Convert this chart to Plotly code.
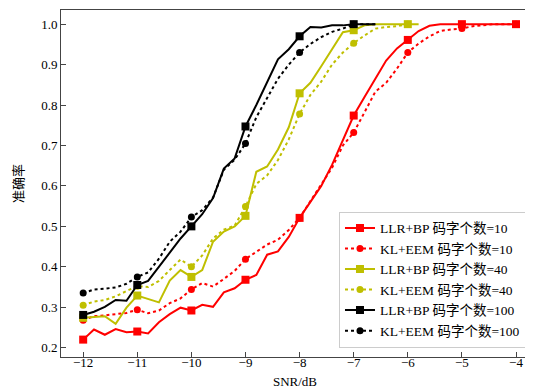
import plotly.graph_objects as go

# SNR grid (dB), 0.2 dB step from -12 to -4
snr_fine = [round(-12 + 0.2 * i, 1) for i in range(41)]

llr_bp_10 = [0.220, 0.245, 0.232, 0.246, 0.238, 0.240, 0.235, 0.263, 0.283, 0.299,
             0.292, 0.306, 0.301, 0.337, 0.347, 0.368, 0.380, 0.430, 0.438, 0.474,
             0.521, 0.559, 0.600, 0.652, 0.712, 0.774, 0.820, 0.865, 0.910, 0.940,
             0.961, 0.983, 0.996, 1.000, 1.000, 1.000, 1.000, 1.000, 1.000, 1.000,
             1.000]
kl_eem_10 = [0.268, 0.278, 0.280, 0.283, 0.286, 0.294, 0.285, 0.292, 0.310, 0.322,
             0.344, 0.360, 0.351, 0.370, 0.390, 0.419, 0.437, 0.455, 0.467, 0.491,
             0.521, 0.563, 0.604, 0.645, 0.700, 0.732, 0.782, 0.833, 0.855, 0.890,
             0.930, 0.952, 0.970, 0.983, 0.987, 0.989, 0.995, 0.998, 1.000, 1.000,
             1.000]
llr_bp_40 = [0.274, 0.276, 0.278, 0.259, 0.299, 0.329, 0.320, 0.312, 0.366, 0.392,
             0.375, 0.392, 0.462, 0.487, 0.500, 0.526, 0.635, 0.648, 0.690, 0.745,
             0.829, 0.855, 0.896, 0.938, 0.980, 0.985, 0.997, 1.000, 1.000, 1.000,
             1.000, 1.000]
kl_eem_40 = [0.305, 0.314, 0.318, 0.327, 0.340, 0.352, 0.350, 0.365, 0.392, 0.418,
             0.400, 0.428, 0.470, 0.492, 0.502, 0.549, 0.605, 0.626, 0.664, 0.715,
             0.778, 0.825, 0.858, 0.900, 0.930, 0.953, 0.972, 0.989, 0.993, 0.995,
             1.000]
llr_bp_100 = [0.281, 0.289, 0.301, 0.318, 0.316, 0.355, 0.365, 0.400, 0.436, 0.470,
              0.500, 0.530, 0.570, 0.643, 0.668, 0.747, 0.800, 0.858, 0.913, 0.938,
              0.970, 0.993, 0.992, 0.997, 0.997, 1.000, 1.000, 1.000]
kl_eem_100 = [0.335, 0.344, 0.346, 0.349, 0.358, 0.375, 0.386, 0.420, 0.462, 0.487,
              0.523, 0.540, 0.571, 0.640, 0.665, 0.705, 0.770, 0.818, 0.865, 0.900,
              0.930, 0.951, 0.968, 0.981, 0.989, 1.000, 1.000, 1.000]

series_names = ["LLR+BP 码字个数=10", "KL+EEM 码字个数=10",
                "LLR+BP 码字个数=40", "KL+EEM 码字个数=40",
                "LLR+BP 码字个数=100", "KL+EEM 码字个数=100"]
series_values = [llr_bp_10, kl_eem_10, llr_bp_40, kl_eem_40, llr_bp_100, kl_eem_100]
series_colors = ["#ff0000", "#ff0000", "#bfbf00", "#bfbf00", "#000000", "#000000"]
series_dash = ["solid", "dot", "solid", "dot", "solid", "dot"]
series_symbol = ["square", "circle", "square", "circle", "square", "circle"]

x_ticks = [-12, -11, -10, -9, -8, -7, -6, -5, -4]
y_ticks = [0.2, 0.3, 0.4, 0.5, 0.6, 0.7, 0.8, 0.9, 1.0]

FONT = "Liberation Serif, Times New Roman, Noto Sans CJK SC, serif"

fig = go.Figure()
for name, vals, col, dash, sym in zip(series_names, series_values, series_colors,
                                      series_dash, series_symbol):
    xs = snr_fine[:len(vals)]
    msize = 8 if sym == "square" else 7
    fig.add_trace(go.Scatter(x=xs, y=vals, mode="lines", showlegend=False,
                             line=dict(color=col, width=2, dash=dash),
                             hoverinfo="skip"))
    fig.add_trace(go.Scatter(x=xs[::5], y=vals[::5], mode="markers", showlegend=False,
                             marker=dict(color=col, size=msize, symbol=sym)))
    fig.add_trace(go.Scatter(x=[None], y=[None], mode="lines+markers", name=name,
                             line=dict(color=col, width=2, dash=dash),
                             marker=dict(color=col, size=msize, symbol=sym)))

axis_common = dict(showline=True, linecolor="#444", linewidth=1, mirror=True,
                   ticks="inside", ticklen=5, tickcolor="#444", showgrid=False,
                   zeroline=False, tickfont=dict(family=FONT, size=13, color="#000"))

# The page body has an 8px margin, so the figure is sized to the remaining window
fig.update_layout(
    width=525, height=381,
    margin=dict(l=53, r=4, t=2, b=32),
    paper_bgcolor="white", plot_bgcolor="white",
    font=dict(family=FONT, size=13, color="#000"),
    xaxis=dict(range=[-12.41, -3.76], tickvals=x_ticks, automargin=False,
               ticklabelstandoff=-7,
               title=dict(text="SNR/dB", font=dict(family=FONT, size=13), standoff=11),
               **axis_common),
    yaxis=dict(range=[0.177, 1.035], tickvals=y_ticks, tickformat=".1f",
               automargin=False,
               title=dict(text="准确率", font=dict(family=FONT, size=13), standoff=14),
               **axis_common),
    legend=dict(x=0.594, y=0.027, xanchor="left", yanchor="bottom",
                bgcolor="white", bordercolor="#cccccc", borderwidth=1,
                font=dict(family=FONT, size=13.5), tracegroupgap=0,
                itemwidth=30),
)

fig.write_html("out.html")
